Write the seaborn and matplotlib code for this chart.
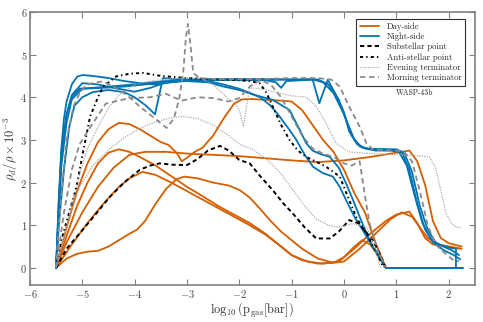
import numpy as np
import pandas as pd
import matplotlib
matplotlib.use("Agg")
import matplotlib.pyplot as plt
import seaborn as sns

# ---- data (x = log10 p_gas [bar], y = rho_d/rho x 1e-3) ----

# Day-side profiles
day_1_x = [-5.5, -5.3, -5.1, -4.9, -4.7, -4.5, -4.3, -4.1, -3.9, -3.7, -3.5, -3.35, -3.2, -3.1, -3.0,
           -2.85, -2.7, -2.5, -2.3, -2.1, -1.95, -1.8, -1.5, -1.2, -1.0, -0.8, -0.6, -0.4, -0.2, 0.0,
           0.2, 0.4, 0.6, 0.8]
day_1_y = [0, 0.95, 1.8, 2.45, 2.95, 3.25, 3.4, 3.37, 3.25, 3.1, 2.95, 2.88, 2.7, 2.5, 2.58,
           2.72, 2.82, 3.1, 3.5, 3.85, 3.95, 3.96, 3.94, 3.92, 3.9, 3.7, 3.35, 3.0, 2.72, 2.3,
           1.75, 1.3, 0.6, 0]
day_2_x = [-5.5, -5.3, -5.0, -4.7, -4.4, -4.1, -3.8, -3.4, -3.0, -2.5, -2.0, -1.5, -1.0, -0.5, 0.0,
           0.5, 1.0, 1.25, 1.4, 1.55, 1.7, 1.85, 2.0, 2.25]
day_2_y = [0, 0.6, 1.3, 1.9, 2.35, 2.65, 2.72, 2.72, 2.68, 2.65, 2.62, 2.57, 2.52, 2.48, 2.52,
           2.6, 2.7, 2.75, 2.5, 1.95, 1.1, 0.7, 0.58, 0.5]
day_3_x = [-5.5, -5.3, -5.1, -4.9, -4.7, -4.5, -4.3, -4.1, -3.9, -3.6, -3.3, -3.0, -2.7, -2.4, -2.1,
           -1.8, -1.5, -1.2, -1.0, -0.7, -0.4, -0.1, 0.2, 0.5, 0.8, 1.0, 1.25, 1.4, 1.55, 1.7, 2.0, 2.25]
day_3_y = [0, 0.75, 1.45, 2.0, 2.45, 2.7, 2.78, 2.72, 2.6, 2.4, 2.15, 1.9, 1.68, 1.45, 1.25,
           1.05, 0.8, 0.5, 0.3, 0.15, 0.1, 0.15, 0.45, 0.8, 1.1, 1.25, 1.32, 1.05, 0.7, 0.55, 0.5, 0.45]
day_4_x = [-5.5, -5.2, -4.9, -4.6, -4.3, -4.1, -3.85, -3.6, -3.3, -3.0, -2.7, -2.4, -2.1, -1.8, -1.5,
           -1.2, -1.0, -0.8, -0.5, -0.2, 0.0, 0.2, 0.35, 0.5, 0.65, 0.8]
day_4_y = [0, 0.55, 1.05, 1.5, 1.9, 2.1, 2.25, 2.18, 2.0, 1.8, 1.6, 1.4, 1.2, 1.0, 0.78,
           0.5, 0.3, 0.18, 0.1, 0.12, 0.25, 0.5, 0.65, 0.55, 0.3, 0]
day_5_x = [-5.5, -5.3, -5.1, -4.9, -4.7, -4.5, -4.3, -4.1, -3.95, -3.8, -3.6, -3.4, -3.2, -3.05, -2.8,
           -2.5, -2.2, -2.0, -1.8, -1.6, -1.4, -1.2, -1.0, -0.8, -0.5, -0.2, 0.0, 0.3, 0.6, 0.9,
           1.1, 1.3, 1.45, 1.6, 1.8, 2.0, 2.2]
day_5_y = [0, 0.22, 0.33, 0.38, 0.4, 0.5, 0.65, 0.8, 0.9, 1.1, 1.5, 1.85, 2.08, 2.14, 2.1,
           2.0, 1.93, 1.83, 1.65, 1.38, 1.1, 0.85, 0.65, 0.45, 0.22, 0.12, 0.15, 0.45, 0.8, 1.15,
           1.3, 1.2, 0.95, 0.7, 0.55, 0.5, 0.45]

# Night-side profiles
night_1_x = [-5.5, -5.45, -5.4, -5.35, -5.3, -5.2, -5.1, -5.0, -4.8, -4.5, -4.2, -3.9, -3.6, -3.3, -3.0,
             -2.5, -2.0, -1.5, -1.0, -0.6, -0.4, -0.2, 0.0, 0.15, 0.3, 0.5, 0.8, 1.05, 1.2, 1.35,
             1.5, 1.65, 1.8, 2.0, 2.14, 2.14, 2.27]
night_1_y = [0, 1.6, 2.8, 3.5, 3.9, 4.3, 4.48, 4.52, 4.5, 4.45, 4.38, 4.33, 4.3, 4.35, 4.4,
             4.42, 4.43, 4.4, 4.42, 4.42, 4.35, 4.1, 3.6, 3.1, 2.85, 2.78, 2.78, 2.72, 2.4, 1.7,
             1.05, 0.7, 0.55, 0.48, 0.45, 0, 0]
night_2_x = [-5.5, -5.45, -5.4, -5.3, -5.2, -5.0, -4.7, -4.4, -4.0, -3.7, -3.4, -3.0, -2.5, -2.0, -1.5,
             -1.3, -1.2, -1.1, -0.8, -0.5, -0.3, -0.1, 0.05, 0.2, 0.35, 0.6, 0.9, 1.1, 1.25, 1.4,
             1.55, 1.7, 1.9, 2.1, 2.22]
night_2_y = [0, 1.4, 2.6, 3.6, 4.05, 4.33, 4.3, 4.22, 4.13, 4.22, 4.35, 4.4, 4.42, 4.4, 4.4,
             4.35, 4.22, 4.38, 4.4, 4.42, 4.3, 3.95, 3.45, 3.0, 2.82, 2.75, 2.75, 2.72, 2.3, 1.5,
             0.9, 0.6, 0.42, 0.3, 0.2]
night_3_x = [-5.5, -5.45, -5.4, -5.3, -5.2, -5.0, -4.6, -4.2, -3.8, -3.4, -3.0, -2.6, -2.3, -2.0, -1.7,
             -1.36, -1.04, -0.85, -0.72, -0.6, -0.47, -0.27, -0.1, 0.04, 0.17, 0.3, 0.45, 0.55, 0.7,
             0.8, 2.27]
night_3_y = [0, 1.2, 2.4, 3.4, 3.95, 4.2, 4.22, 4.25, 4.3, 4.35, 4.38, 4.35, 4.25, 4.17, 4.05,
             3.94, 3.7, 3.25, 2.92, 2.75, 2.68, 2.6, 2.35, 1.98, 1.6, 1.2, 0.75, 0.5, 0.2,
             0, 0]
night_4_x = [-5.5, -5.45, -5.35, -5.25, -5.15, -5.0, -4.8, -4.5, -4.2, -4.0, -3.8, -3.61, -3.46, -3.2, -2.8,
             -2.4, -2.0, -1.6, -1.2, -0.9, -0.6, -0.47, -0.31, -0.15, 0.0, 0.1, 0.25, 0.4, 0.7, 1.0,
             1.15, 1.3, 1.45, 1.6, 1.75, 1.9, 2.05, 2.2]
night_4_y = [0, 1.0, 2.3, 3.3, 3.8, 4.0, 4.12, 4.17, 4.12, 4.0, 3.82, 3.6, 4.45, 4.42, 4.42,
             4.4, 4.42, 4.43, 4.42, 4.4, 4.42, 3.86, 4.41, 4.05, 3.65, 3.2, 2.9, 2.8, 2.78, 2.78,
             2.7, 2.25, 1.45, 0.9, 0.6, 0.5, 0.42, 0.3]
night_5_x = [-5.5, -5.45, -5.4, -5.3, -5.2, -5.05, -4.8, -4.5, -4.2, -3.8, -3.4, -3.0, -2.6, -2.3, -2.0,
             -1.6, -1.4, -1.23, -1.05, -0.91, -0.75, -0.59, -0.4, -0.21, -0.08, 0.04, 0.2, 0.4, 0.6,
             0.8, 2.27]
night_5_y = [0, 1.5, 2.7, 3.6, 4.0, 4.2, 4.22, 4.25, 4.28, 4.33, 4.38, 4.4, 4.38, 4.3, 4.2,
             4.0, 3.8, 3.55, 3.25, 3.0, 2.65, 2.37, 2.22, 2.14, 1.9, 1.59, 1.2, 0.8, 0.4,
             0, 0]

# Substellar point
sub_x = [-5.5, -5.3, -5.05, -4.75, -4.47, -4.2, -3.9, -3.7, -3.52, -3.3, -3.0, -2.8, -2.6, -2.37, -2.2,
         -2.0, -1.8, -1.6, -1.36, -1.15, -0.98, -0.75, -0.53, -0.27, -0.1, 0.1, 0.29, 0.45, 0.55, 0.7, 0.8]
sub_y = [0, 0.45, 0.81, 1.25, 1.67, 2.0, 2.3, 2.4, 2.45, 2.42, 2.41, 2.55, 2.75, 2.86, 2.75,
         2.53, 2.45, 2.15, 1.82, 1.5, 1.28, 0.95, 0.69, 0.69, 0.85, 1.12, 1.04, 0.8, 0.65, 0.3, 0]

# Anti-stellar point
anti_x = [-5.5, -5.4, -5.25, -5.11, -4.98, -4.85, -4.7, -4.6, -4.35, -4.1, -3.84, -3.5, -3.0, -2.5, -2.0,
          -1.8, -1.61, -1.48, -1.36, -1.2, -1.04, -0.88, -0.72, -0.5, -0.34, -0.08, 0.1, 0.25, 0.43, 0.6, 0.76]
anti_y = [0, 0.65, 1.3, 1.9, 2.75, 3.55, 4.0, 4.25, 4.49, 4.55, 4.57, 4.5, 4.45, 4.42, 4.4,
          4.38, 4.33, 4.1, 3.78, 3.35, 3.0, 2.75, 2.6, 2.47, 2.37, 2.14, 1.59, 1.15, 0.81, 0.4, 0]

# Evening terminator
eve_1_x = [-5.5, -5.35, -5.2, -5.05, -4.9, -4.7, -4.5, -4.3, -4.0, -3.7, -3.4, -3.1, -2.76, -2.5, -2.2,
           -2.1, -2.0, -1.92, -1.86, -1.8, -1.6, -1.3, -1.04, -0.72, -0.53, -0.34, -0.15, 0.1, 0.5, 1.0,
           1.4, 1.63, 1.75, 1.82, 1.9, 1.95, 2.05, 2.14, 2.25]
eve_1_y = [0, 0.7, 1.5, 2.2, 2.8, 3.3, 3.75, 4.05, 4.3, 4.38, 4.42, 4.45, 4.45, 4.3, 3.95,
           3.9, 3.7, 3.31, 3.8, 4.22, 4.2, 4.12, 4.04, 4.0, 3.78, 3.39, 2.92, 2.72, 2.68, 2.65,
           2.63, 2.6, 2.35, 1.98, 1.55, 1.28, 1.05, 0.96, 0.94]
eve_2_x = [-5.5, -5.3, -5.05, -4.8, -4.47, -4.2, -3.9, -3.6, -3.3, -3.07, -2.8, -2.5, -2.2, -2.0, -1.75,
           -1.48, -1.23, -1.05, -0.9, -0.75, -0.53, -0.3, -0.15, 0.0, 0.17, 0.3, 0.43, 0.55, 0.7]
eve_2_y = [0, 1.0, 1.9, 2.4, 2.8, 3.05, 3.27, 3.42, 3.52, 3.55, 3.5, 3.35, 3.1, 2.9, 2.78,
           2.55, 2.25, 1.95, 1.7, 1.45, 1.15, 1.0, 0.96, 0.98, 1.04, 1.0, 0.96, 0.6, 0]

# Morning terminator
morn_1_x = [-5.5, -5.45, -5.38, -5.3, -5.17, -5.05, -4.92, -4.75, -4.6, -4.4, -4.15, -3.9, -3.58, -3.39, -3.25,
            -3.15, -3.07, -3.02, -2.98, -2.93, -2.88, -2.76, -2.4, -2.0, -1.5, -1.0, -0.5, -0.24, -0.08, 0.1,
            0.3, 0.43, 0.55, 0.8, 1.0, 1.15, 1.3, 1.45, 1.6, 1.75, 1.88, 2.07, 2.2]
morn_1_y = [0, 0.9, 2.0, 3.0, 3.78, 4.1, 4.29, 4.35, 4.37, 4.25, 4.05, 3.78, 3.47, 3.28, 3.5,
            3.95, 4.6, 5.4, 5.72, 5.2, 4.57, 4.45, 4.42, 4.42, 4.43, 4.45, 4.45, 4.41, 4.25, 3.78,
            3.31, 2.92, 2.78, 2.75, 2.75, 2.72, 2.5, 1.8, 1.0, 0.55, 0.4, 0.2, 0.15]
morn_2_x = [-5.5, -5.35, -5.2, -5.05, -4.9, -4.55, -4.1, -3.7, -3.4, -3.1, -2.8, -2.5, -2.2, -2.0, -1.8,
            -1.6, -1.4, -1.2, -1.0, -0.8, -0.6, -0.4, -0.2, 0.0, 0.15, 0.3, 0.4, 0.49, 0.65, 0.8]
morn_2_y = [0, 1.3, 2.3, 2.9, 3.2, 3.85, 3.98, 4.0, 4.08, 3.92, 4.0, 3.98, 3.9, 3.98, 4.25,
            4.4, 4.3, 4.0, 3.55, 3.1, 2.8, 2.68, 2.6, 2.45, 2.4, 2.5, 1.7, 1.04, 0.4, 0]

groups = [
    ("Day-side", [(day_1_x, day_1_y), (day_2_x, day_2_y), (day_3_x, day_3_y),
                  (day_4_x, day_4_y), (day_5_x, day_5_y)]),
    ("Night-side", [(night_1_x, night_1_y), (night_2_x, night_2_y), (night_3_x, night_3_y),
                    (night_4_x, night_4_y), (night_5_x, night_5_y)]),
    ("Substellar point", [(sub_x, sub_y)]),
    ("Anti-stellar point", [(anti_x, anti_y)]),
    ("Evening terminator", [(eve_1_x, eve_1_y), (eve_2_x, eve_2_y)]),
    ("Morning terminator", [(morn_1_x, morn_1_y), (morn_2_x, morn_2_y)]),
]

cb = sns.color_palette("colorblind")
styles = {
    "Day-side": dict(color=cb[3], linewidth=1.3, linestyle="-"),
    "Night-side": dict(color=cb[0], linewidth=1.3, linestyle="-"),
    "Substellar point": dict(color="black", linewidth=1.4, linestyle=(0, (2.2, 1.6))),
    "Anti-stellar point": dict(color="black", linewidth=1.4, linestyle=(0, (1.6, 1.6, 0.7, 1.6))),
    "Evening terminator": dict(color="#ababab", linewidth=0.9, linestyle=(0, (1, 1))),
    "Morning terminator": dict(color="#8a8a8a", linewidth=1.3, linestyle=(0, (3, 2))),
}

# ---- style ----
sns.set_theme(style="ticks")
plt.rcParams["font.family"] = ["cmr10", "DejaVu Serif"]
plt.rcParams["mathtext.fontset"] = "cm"
plt.rcParams["axes.formatter.use_mathtext"] = True
plt.rcParams["axes.unicode_minus"] = True

fig = plt.figure(figsize=(4.83, 3.22), dpi=100)
ax = fig.add_axes([0.062, 0.115, 0.921, 0.848])

for name, curves in groups:
    for i, (xs, ys) in enumerate(curves):
        df = pd.DataFrame({"x": xs, "y": ys})
        sns.lineplot(data=df, x="x", y="y", ax=ax, sort=False, estimator=None,
                     label=name if i == 0 else None, **styles[name])

ax.set_xlim(-6, 2.5)
ax.set_ylim(-0.4, 6.0)
ax.set_xticks(np.arange(-6, 3, 1))
ax.set_yticks(np.arange(0, 7, 1))
ax.set_xlabel(r"$\log_{10}(\mathrm{p_{gas}[bar]})$", fontsize=9, color="#333333", labelpad=1)
ax.set_ylabel(r"$\rho_d/\rho\times10^{-3}$", fontsize=9, color="#333333", labelpad=0)

for s in ax.spines.values():
    s.set_color("#808080")
    s.set_linewidth(1.2)
ax.tick_params(direction="in", top=True, right=True, length=4, width=0.8,
               color="#808080", labelcolor="#444444", labelsize=7.5, pad=2)

ax.text(1.0, 4.1, "WASP-43b", fontsize=5.5, color="#222222", va="center", ha="left")

leg = ax.legend(loc="upper right", bbox_to_anchor=(0.987, 0.99), fontsize=6.2,
                frameon=True, fancybox=False, framealpha=1, edgecolor="#333333",
                handlelength=2.2, labelspacing=0.22, borderpad=0.4, handletextpad=0.9)
leg.get_frame().set_linewidth(0.8)

fig.savefig("out.png", dpi=100)
